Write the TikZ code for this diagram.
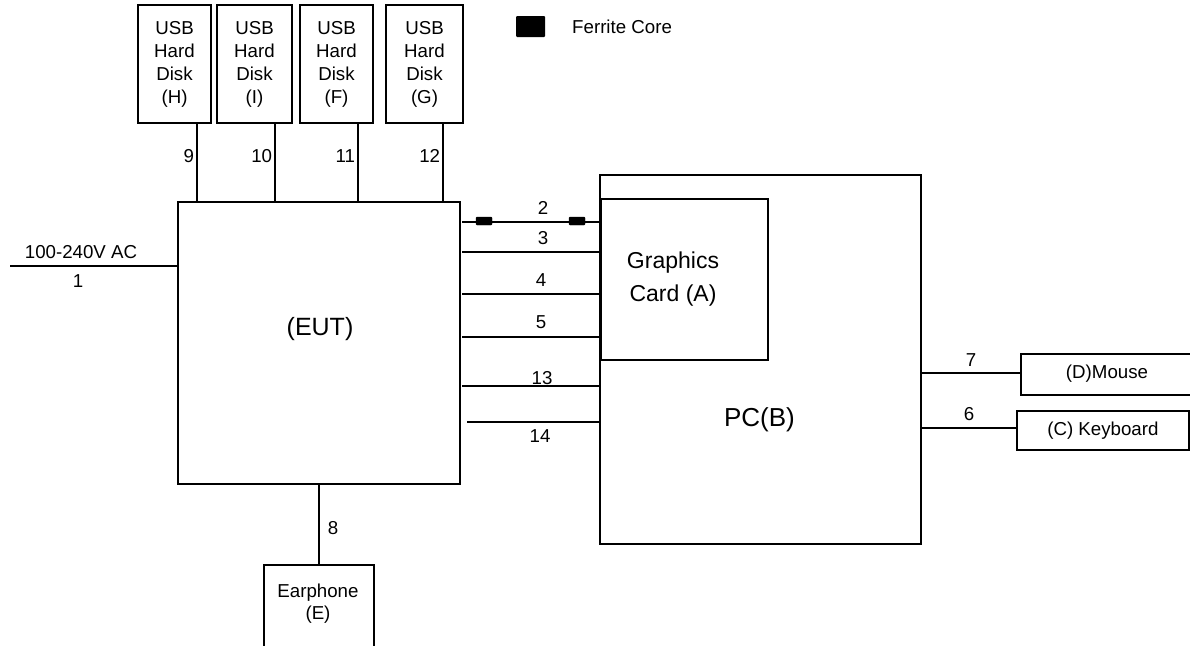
\documentclass[tikz,border=0pt]{standalone}
\usepackage{fontspec}
\setmainfont{Liberation Sans}
\begin{document}
\begin{tikzpicture}[x=1pt,y=-1pt,
  box/.style={draw,line width=1.8pt,inner sep=0pt,align=center},
  wire/.style={line width=1.8pt},
  lbl/.style={inner sep=0pt,font=\fontsize{18.7}{22}\selectfont},
  ferrite/.style={fill=black,draw=black,rounded corners=1pt,minimum width=16pt,minimum height=8pt,inner sep=0pt}]
\useasboundingbox (0,0) rectangle (1190,645);
\clip (0,0) rectangle (1190,645);
% USB disks
\foreach \n/\xa/\xb/\t in {H/138/211/H, I/217/292/I, F/300/373/F, G/386/463/G}{
  \node[box,minimum width=\xb-\xa,minimum height=118,font=\fontsize{18.7}{23}\selectfont] (\n) at ({(\xa+\xb)/2},64) {USB\\Hard\\Disk\\(\t)};
}
% EUT
\node[box,minimum width=282,minimum height=282] (EUT) at (319,343) {};
\node[lbl,font=\fontsize{25}{30}\selectfont] (EUTt) at (320,329) {(EUT)};
% PC
\node[box,minimum width=321,minimum height=369] (PC) at (760.5,359.5) {};
\node[lbl,font=\fontsize{26}{30}\selectfont] (PCt) at (759.5,420) {PC(B)};
% Graphics card
\node[box,minimum width=167,minimum height=161,anchor=north west] (GC) at (600,198) {};
\node[lbl,align=center,font=\fontsize{23}{33}\selectfont] (GCt) at (673,279) {Graphics\\Card (A)};
% Mouse, keyboard
\node[box,minimum width=180,minimum height=41,anchor=north west] (M) at (1020,353) {};
\node[lbl] (Mt) at (1107,374) {(D)Mouse};
\node[box,minimum width=172,minimum height=39,anchor=north west,font=\fontsize{18.7}{22}\selectfont] (K) at (1016,410) {(C) Keyboard};
% Earphone
\node[box,minimum width=110,minimum height=100,anchor=north west] (E) at (263,564) {};
\node[lbl,align=center,font=\fontsize{18.7}{22}\selectfont] (Et) at (318,604) {Earphone\\(E)};
% Legend
\node[fill=black,rounded corners=1pt,minimum width=29,minimum height=21,inner sep=0pt] (FL) at (530.5,26.5) {};
\node[lbl,anchor=west] (FLt) at (572,27) {Ferrite Core};

% USB connectors
\foreach \n/\xc/\num in {H/197/9, I/275/10, F/358/11, G/443/12}{
  \coordinate (t\n) at (\xc,0);
  \draw[wire] (t\n |- \n.south) -- (t\n |- EUT.north) node[pos=0.42,left=2pt,lbl] {\num};
}
% Power
\coordinate (P) at (10,266);
\draw[wire] (P) -- (P -| EUT.west);
\node[lbl] (L1a) at (81,252) {100-240V AC};
\node[lbl] (L1b) at (78,281) {1};

% Right side connectors
\coordinate (c2) at (462,222);
\draw[wire] (c2) -- (c2 -| GC.west);
\node[ferrite] (F1) at (484,221) {};
\node[ferrite] (F2) at (577,221) {};
\node[lbl] at (543,208) {2};
\coordinate (c3) at (462,252);
\draw[wire] (c3) -- (c3 -| GC.west);
\node[lbl] at (543,238) {3};
\coordinate (c4) at (462,294);
\draw[wire] (c4) -- (c4 -| GC.west);
\node[lbl] at (541,280) {4};
\coordinate (c5) at (462,337);
\draw[wire] (c5) -- (c5 -| GC.west);
\node[lbl] at (541,322) {5};
\coordinate (c13) at (462,386);
\draw[wire] (c13) -- (c13 -| PC.west);
\node[lbl] at (542,378) {13};
\coordinate (c14) at (467,422);
\draw[wire] (c14) -- (c14 -| PC.west);
\node[lbl] at (540,436) {14};

% Mouse / keyboard connectors
\coordinate (c7) at (0,373);
\coordinate (c6) at (0,428);
\draw[wire] (c7 -| PC.east) -- (c7 -| M.west) node[pos=0.5,above=6pt,lbl] {7};
\draw[wire] (c6 -| PC.east) -- (c6 -| K.west) node[pos=0.5,above=6pt,lbl] {6};
% Earphone
\draw[wire] (EUT.south) -- (E.north) node[pos=0.55,right=8pt,lbl] {8};
\end{tikzpicture}
\end{document}
